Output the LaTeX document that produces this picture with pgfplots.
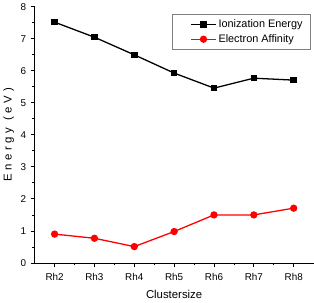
\documentclass[border=0pt]{standalone}
\usepackage{fontspec}
\setmainfont{Liberation Sans}
\usepackage{pgfplots}
\pgfplotsset{compat=1.18}
\begin{document}
\begin{tikzpicture}
\begin{axis}[
  scale only axis,
  width=281bp, height=258bp,
  xmin=-0.5, xmax=6.5, ymin=0, ymax=8,
  axis lines=left,
  axis line style={-, line width=0.8bp},
  xtick={0,...,6},
  xticklabels={Rh2,Rh3,Rh4,Rh5,Rh6,Rh7,Rh8},
  ytick={0,...,8},
  minor x tick num=1, minor y tick num=1,
  tick align=outside,
  major tick length=4bp, minor tick length=2.5bp,
  tick style={line width=0.8bp, black},
  /pgf/number format/assume math mode=true,
  tick label style={font=\fontsize{10}{12}\selectfont},
  xticklabel style={yshift=-3bp},
  yticklabel style={xshift=-1bp},
  xlabel={Clustersize},
  ylabel={\addfontfeature{LetterSpace=32}Energy (eV)},
  label style={font=\fontsize{11.5}{13}\selectfont},
  xlabel style={yshift=-3bp},
  ylabel style={yshift=0bp},
  legend style={at={(0.99,0.972)}, anchor=north east, draw=gray, line width=0.6bp,
    font=\fontsize{11}{13}\selectfont, inner xsep=6bp, inner ysep=3.5bp,
    row sep=1.5bp, cells={anchor=west}},
  legend image code/.code={\path[draw=none] (0bp,-1bp) rectangle (13bp,1bp); \draw[#1, line width=1.3bp] (13bp,0bp) -- (38bp,0bp); \draw[#1,only marks] plot coordinates {(25.5bp,0bp)};},
]
\addplot[black, line width=1.3bp, mark=square*, mark size=2.6bp] coordinates {
(0,7.52) (1,7.05) (2,6.50) (3,5.93) (4,5.46) (5,5.77) (6,5.71)};
\addlegendentry{Ionization Energy}
\addplot[red, line width=1.3bp, mark=*, mark size=3bp] coordinates {
(0,0.90) (1,0.77) (2,0.51) (3,0.98) (4,1.50) (5,1.50) (6,1.71)};
\addlegendentry{Electron Affinity}
\end{axis}
\end{tikzpicture}
\end{document}
